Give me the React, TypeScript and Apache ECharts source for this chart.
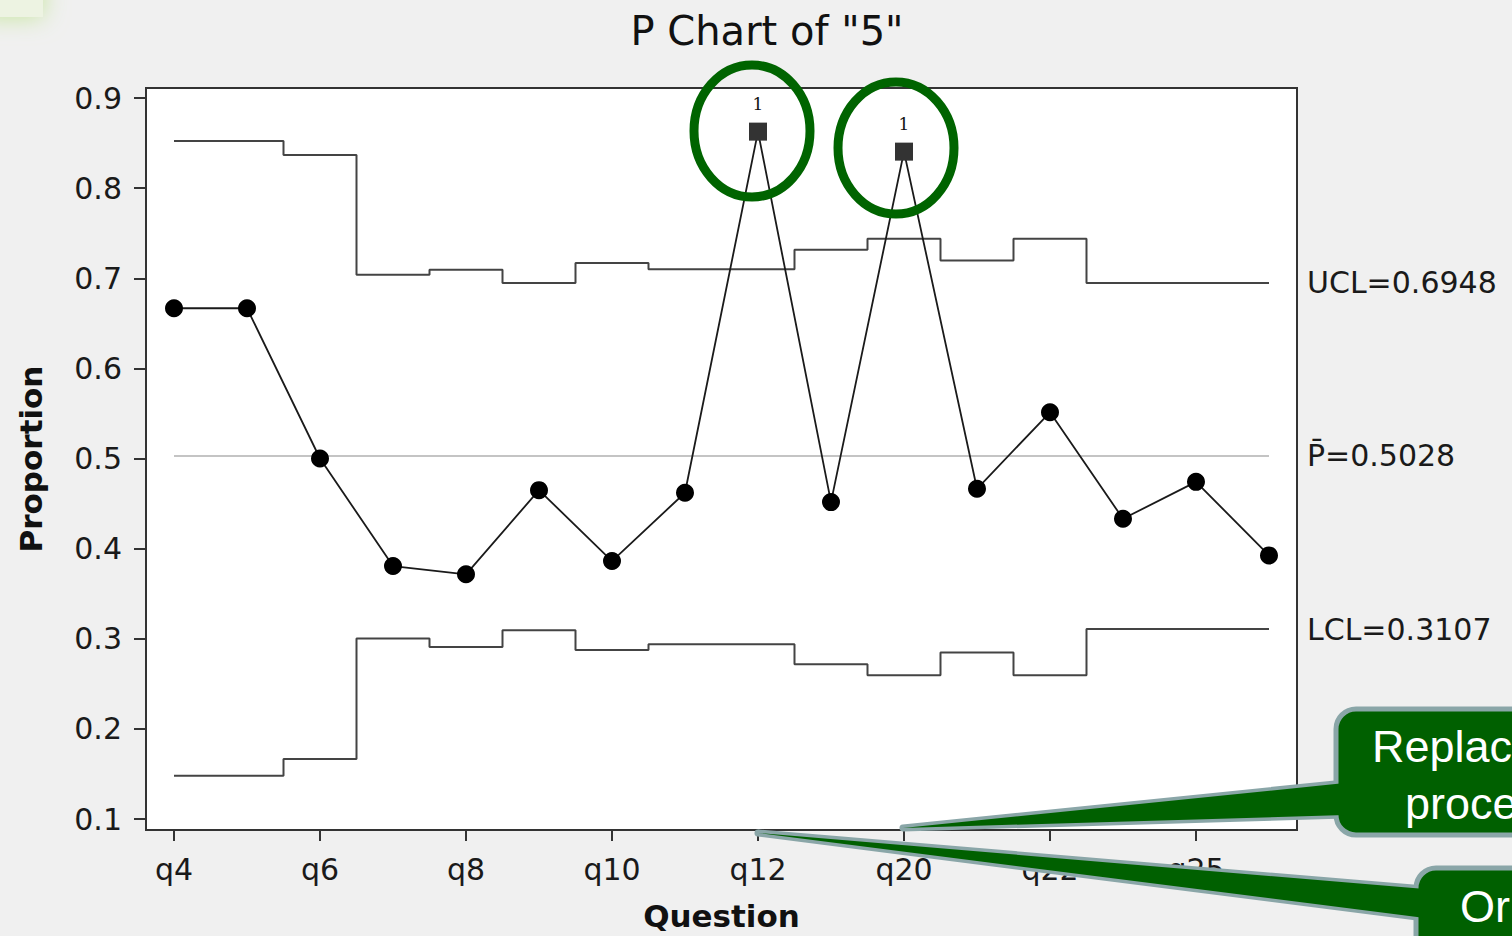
import React, { useEffect, useRef } from "react";
import * as echarts from "echarts";

const categories = ["q4", "q5", "q6", "q7", "q8", "q9", "q10", "q11", "q12", "q13", "q20", "q21", "q22", "q23", "q25", "q26"];
const proportion = [0.6667, 0.6667, 0.5, 0.3807, 0.3715, 0.4649, 0.3862, 0.462, 0.8627, 0.4516, 0.8405, 0.4664, 0.5513, 0.4331, 0.4741, 0.3925];
const ucl = [0.8524, 0.8524, 0.8368, 0.7039, 0.7094, 0.6947, 0.7168, 0.71, 0.71, 0.7316, 0.7438, 0.7198, 0.7438, 0.6948, 0.6948, 0.6948];
const lcl = [0.148, 0.148, 0.1665, 0.3002, 0.2909, 0.3094, 0.2876, 0.2939, 0.2939, 0.2717, 0.2596, 0.2847, 0.2596, 0.3107, 0.3107, 0.3107];
const pBar = 0.5028;
const uclLabel = "0.6948";
const lclLabel = "0.3107";
const yTicks = [0.1, 0.2, 0.3, 0.4, 0.5, 0.6, 0.7, 0.8, 0.9];
const xTickIdx = [0, 2, 4, 6, 8, 10, 12, 14];
const titleText = 'P Chart of "5"';
const callout1Lines = ["Replac", "proce"];
const callout2Lines = ["Or"];

const FONT = "DejaVu Sans";

export default function App() {
  const ref = useRef<HTMLDivElement>(null);
  useEffect(() => {
    const chart = echarts.init(ref.current!, null, { renderer: "svg" });
    const pts = proportion.map((v, i) => {
      if (v > ucl[i] || v < lcl[i]) {
        return {
          value: [i, v],
          symbol: "rect",
          symbolSize: 18,
          itemStyle: { color: "#333" },
          label: {
            show: true,
            formatter: "1",
            position: "top",
            distance: 10,
            fontSize: 17,
            fontFamily: "DejaVu Serif",
            color: "#111",
          },
        };
      }
      return { value: [i, v] };
    });
    const calloutStroke = "#8aa6a8";
    const calloutFill = "#006000";
    chart.setOption({
      animation: false,
      backgroundColor: "#f0f0f0",
      title: {
        text: titleText,
        left: 762,
        top: 6,
        textAlign: "center",
        textStyle: { fontSize: 40, fontWeight: "normal", fontFamily: FONT, color: "#111" },
      },
      grid: {
        left: 146,
        top: 88,
        right: 215,
        bottom: 105,
        show: true,
        backgroundColor: "#ffffff",
        borderColor: "#333",
        borderWidth: 2,
      },
      xAxis: {
        type: "value",
        min: -0.3836,
        max: 15.3836,
        name: "Question",
        nameLocation: "middle",
        nameGap: 70,
        nameTextStyle: { fontSize: 31, fontWeight: "bold", fontFamily: FONT, color: "#111" },
        axisLine: { show: false, onZero: false },
        splitLine: { show: false },
        axisTick: { show: true, length: 11, customValues: xTickIdx, lineStyle: { color: "#333", width: 2 } },
        axisLabel: {
          customValues: xTickIdx,
          formatter: (v: number) => categories[Math.round(v)],
          fontSize: 30,
          fontFamily: FONT,
          color: "#1a1a1a",
          margin: 24,
        },
      },
      yAxis: {
        type: "value",
        min: 0.0878,
        max: 0.9111,
        name: "Proportion",
        nameLocation: "middle",
        nameGap: 100,
        nameTextStyle: { fontSize: 31, fontWeight: "bold", fontFamily: FONT, color: "#111" },
        axisLine: { show: false, onZero: false },
        splitLine: { show: false },
        axisTick: { show: true, length: 12, customValues: yTicks, lineStyle: { color: "#333", width: 2 } },
        axisLabel: {
          customValues: yTicks,
          formatter: (v: number) => v.toFixed(1),
          fontSize: 30,
          fontFamily: FONT,
          color: "#1a1a1a",
          margin: 24,
        },
      },
      series: [
        {
          type: "line",
          name: "UCL",
          step: "middle",
          data: ucl.map((v, i) => [i, v]),
          symbol: "none",
          lineStyle: { color: "#444", width: 2 },
          endLabel: { show: true, formatter: "UCL=" + uclLabel, distance: 38, fontSize: 30, fontFamily: FONT, color: "#1a1a1a" },
          z: 2,
        },
        {
          type: "line",
          name: "LCL",
          step: "middle",
          data: lcl.map((v, i) => [i, v]),
          symbol: "none",
          lineStyle: { color: "#444", width: 2 },
          endLabel: { show: true, formatter: "LCL=" + lclLabel, distance: 38, fontSize: 30, fontFamily: FONT, color: "#1a1a1a" },
          z: 2,
        },
        {
          type: "line",
          name: "P",
          data: [[0, pBar], [categories.length - 1, pBar]],
          symbol: "none",
          lineStyle: { color: "#c4c4c4", width: 2 },
          endLabel: { show: true, formatter: "P\u0304=" + pBar.toFixed(4), distance: 38, fontSize: 30, fontFamily: FONT, color: "#1a1a1a" },
          z: 1,
        },
        {
          type: "line",
          name: "Proportion",
          data: pts,
          symbol: "circle",
          symbolSize: 18,
          showAllSymbol: true,
          itemStyle: { color: "#000" },
          lineStyle: { color: "#1a1a1a", width: 1.8 },
          z: 3,
        },
      ],
      graphic: [
        {
          type: "rect",
          shape: { x: -20, y: -20, width: 63, height: 37 },
          style: { fill: "#edf3e2", shadowBlur: 25, shadowColor: "#c5e59a" },
        },
        {
          type: "ellipse",
          shape: { cx: 752, cy: 131, rx: 58, ry: 66 },
          style: { fill: "none", stroke: "#006400", lineWidth: 9 },
          z: 100,
        },
        {
          type: "ellipse",
          shape: { cx: 896, cy: 148, rx: 58, ry: 66 },
          style: { fill: "none", stroke: "#006400", lineWidth: 9 },
          z: 100,
        },
        // callout 1
        {
          type: "polygon",
          shape: { points: [[1345, 783], [903, 828], [1345, 815]] },
          style: { fill: calloutFill, stroke: calloutStroke, lineWidth: 7, lineJoin: "round" },
          z: 100,
        },
        {
          type: "rect",
          shape: { x: 1336, y: 709, width: 260, height: 126, r: 20 },
          style: { fill: calloutFill, stroke: calloutStroke, lineWidth: 5 },
          z: 101,
        },
        {
          type: "polygon",
          shape: { points: [[1345, 783], [903, 828], [1345, 815]] },
          style: { fill: calloutFill },
          z: 102,
        },
        {
          type: "text",
          x: 1372,
          y: 746,
          style: { text: callout1Lines[0], fill: "#fff", fontSize: 45, fontFamily: "Liberation Sans", verticalAlign: "middle" },
          z: 103,
        },
        {
          type: "text",
          x: 1405,
          y: 803,
          style: { text: callout1Lines[1], fill: "#fff", fontSize: 45, fontFamily: "Liberation Sans", verticalAlign: "middle" },
          z: 103,
        },
        // callout 2
        {
          type: "polygon",
          shape: { points: [[1425, 889], [758, 833], [1425, 918]] },
          style: { fill: calloutFill, stroke: calloutStroke, lineWidth: 7, lineJoin: "round" },
          z: 100,
        },
        {
          type: "rect",
          shape: { x: 1416, y: 868, width: 200, height: 120, r: 20 },
          style: { fill: calloutFill, stroke: calloutStroke, lineWidth: 5 },
          z: 101,
        },
        {
          type: "polygon",
          shape: { points: [[1425, 889], [758, 833], [1425, 918]] },
          style: { fill: calloutFill },
          z: 102,
        },
        {
          type: "text",
          x: 1460,
          y: 906,
          style: { text: callout2Lines[0], fill: "#fff", fontSize: 45, fontFamily: "Liberation Sans", verticalAlign: "middle" },
          z: 103,
        },
      ],
    });
    return () => chart.dispose();
  }, []);
  return (
    <div
      ref={ref}
      style={{ position: "fixed", left: 0, top: 0, width: 1512, height: 936, background: "#f0f0f0" }}
    />
  );
}
